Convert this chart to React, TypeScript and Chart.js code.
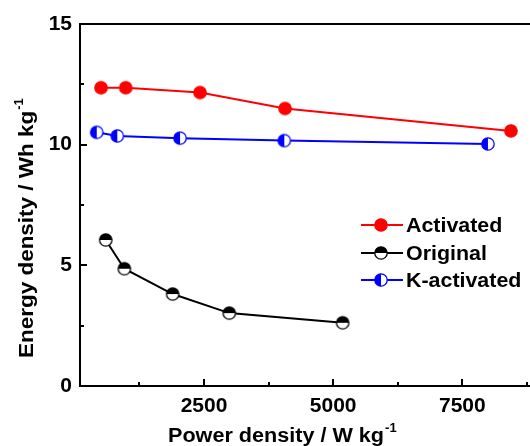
import React, { useEffect, useRef } from 'react';
import { Chart, registerables } from 'chart.js';

Chart.register(...registerables);

// ---- data ----
const seriesLabels = ['Activated', 'Original', 'K-activated'];
const activatedPower = [507, 985, 2423, 4068, 8440];
const activatedEnergy = [12.36, 12.36, 12.16, 11.5, 10.57];
const originalPower = [598, 958, 1894, 2990, 5184];
const originalEnergy = [6.05, 4.86, 3.81, 3.02, 2.62];
const kActivatedPower = [424, 822, 2036, 4054, 7995];
const kActivatedEnergy = [10.51, 10.36, 10.27, 10.17, 10.03];

const xTickValues = [2500, 5000, 7500];
const xMinorTickValues = [1250, 3750, 6250, 8750];
const yTickValues = [0, 5, 10, 15];
const yMinorTickValues = [2.5, 7.5, 12.5];

const xAxisTitle = 'Power density / W kg';
const yAxisTitle = 'Energy density / Wh kg';
const unitExponent = '-1';

const FONT = 'Arial, "Liberation Sans", sans-serif';

type MarkerKind = 'filled' | 'halfTop' | 'halfLeft';

function makeMarker(kind: MarkerKind, color: string): HTMLCanvasElement {
  const size = 16;
  const c = document.createElement('canvas');
  c.width = size;
  c.height = size;
  const ctx = c.getContext('2d')!;
  const cx = size / 2;
  const cy = size / 2;
  const r = 6.2;
  ctx.fillStyle = '#ffffff';
  ctx.beginPath();
  ctx.arc(cx, cy, r, 0, Math.PI * 2);
  ctx.fill();
  ctx.fillStyle = color;
  ctx.beginPath();
  if (kind === 'filled') {
    ctx.arc(cx, cy, r, 0, Math.PI * 2);
  } else if (kind === 'halfTop') {
    ctx.arc(cx, cy, r, Math.PI, Math.PI * 2);
    ctx.closePath();
  } else {
    ctx.arc(cx, cy, r, Math.PI / 2, Math.PI * 1.5);
    ctx.closePath();
  }
  ctx.fill();
  ctx.strokeStyle = color;
  ctx.lineWidth = 1.3;
  ctx.beginPath();
  ctx.arc(cx, cy, r, 0, Math.PI * 2);
  ctx.stroke();
  return c;
}

function toPoints(xs: number[], ys: number[]) {
  return xs.map((x, i) => ({ x, y: ys[i] }));
}

const frameAndExtrasPlugin = {
  id: 'frameAndExtras',
  afterDraw(chart: any) {
    const ctx: CanvasRenderingContext2D = chart.ctx;
    const a = chart.chartArea;
    const xs = chart.scales.x;
    const ys = chart.scales.y;
    ctx.save();
    ctx.strokeStyle = '#000';
    ctx.lineWidth = 2;
    // top frame line
    ctx.beginPath();
    ctx.moveTo(a.left - 1, a.top);
    ctx.lineTo(a.right, a.top);
    ctx.stroke();
    // inward ticks
    const tick = (x1: number, y1: number, x2: number, y2: number) => {
      ctx.beginPath();
      ctx.moveTo(x1, y1);
      ctx.lineTo(x2, y2);
      ctx.stroke();
    };
    xTickValues.forEach((v) => {
      const p = Math.round(xs.getPixelForValue(v));
      tick(p, a.bottom, p, a.bottom - 7);
    });
    xMinorTickValues.forEach((v) => {
      const p = Math.round(xs.getPixelForValue(v));
      tick(p, a.bottom, p, a.bottom - 4);
    });
    yTickValues.forEach((v) => {
      const p = Math.round(ys.getPixelForValue(v));
      tick(a.left, p, a.left + 7, p);
    });
    yMinorTickValues.forEach((v) => {
      const p = Math.round(ys.getPixelForValue(v));
      tick(a.left, p, a.left + 4, p);
    });

    // axis titles with superscript
    ctx.fillStyle = '#000';
    ctx.textAlign = 'left';
    ctx.textBaseline = 'alphabetic';
    // x title
    ctx.save();
    ctx.translate(168, 442);
    ctx.scale(1.08, 1);
    ctx.font = `bold 20px ${FONT}`;
    ctx.fillText(xAxisTitle, 0, 0);
    const wx = ctx.measureText(xAxisTitle).width;
    ctx.font = `bold 12px ${FONT}`;
    ctx.fillText(unitExponent, wx + 1, -10);
    ctx.restore();
    // y title
    ctx.save();
    ctx.translate(33, 358);
    ctx.rotate(-Math.PI / 2);
    ctx.scale(1.07, 1);
    ctx.font = `bold 21px ${FONT}`;
    ctx.fillText(yAxisTitle, 0, 0);
    const wy = ctx.measureText(yAxisTitle).width;
    ctx.font = `bold 12px ${FONT}`;
    ctx.fillText(unitExponent, wy + 1, -10);
    ctx.restore();

    // legend
    const rows = [225, 253, 280];
    chart.data.datasets.forEach((ds: any, i: number) => {
      const y = rows[i];
      ctx.strokeStyle = ds.borderColor;
      ctx.lineWidth = 2;
      tick(361, y, 403, y);
      const img = ds.pointStyle as HTMLCanvasElement;
      ctx.drawImage(img, 381 - img.width / 2, y - img.height / 2);
      ctx.save();
      ctx.translate(406, y);
      ctx.scale(1.07, 1);
      ctx.font = `bold 20px ${FONT}`;
      ctx.textBaseline = 'middle';
      ctx.fillStyle = '#000';
      ctx.fillText(ds.label, 0, 1);
      ctx.restore();
    });
    ctx.restore();
  },
};

export default function App() {
  const canvasRef = useRef<HTMLCanvasElement | null>(null);

  useEffect(() => {
    const canvas = canvasRef.current;
    if (!canvas) return;
    const chart = new Chart(canvas, {
      type: 'scatter',
      data: {
        datasets: [
          {
            label: seriesLabels[0],
            data: toPoints(activatedPower, activatedEnergy),
            borderColor: '#ff0000',
            backgroundColor: '#ff0000',
            borderWidth: 2,
            showLine: true,
            pointStyle: makeMarker('filled', '#ff0000'),
            pointRadius: 7,
          },
          {
            label: seriesLabels[1],
            data: toPoints(originalPower, originalEnergy),
            borderColor: '#000000',
            backgroundColor: '#000000',
            borderWidth: 2,
            showLine: true,
            pointStyle: makeMarker('halfTop', '#000000'),
            pointRadius: 7,
          },
          {
            label: seriesLabels[2],
            data: toPoints(kActivatedPower, kActivatedEnergy),
            borderColor: '#0000ff',
            backgroundColor: '#0000ff',
            borderWidth: 2,
            showLine: true,
            pointStyle: makeMarker('halfLeft', '#0000ff'),
            pointRadius: 7,
          },
        ] as any,
      },
      options: {
        responsive: false,
        animation: false,
        devicePixelRatio: 1,
        layout: { autoPadding: false, padding: { top: 24, right: 0, left: 0, bottom: 0 } },
        plugins: {
          legend: { display: false },
          tooltip: { enabled: false },
          title: { display: false },
        },
        scales: {
          x: {
            type: 'linear',
            min: 100,
            max: 8810,
            grid: { display: false, drawTicks: false },
            border: { display: true, color: '#000', width: 2 },
            afterFit: (s: any) => {
              s.height = 60;
              s.paddingLeft = 0;
              s.paddingRight = 0;
            },
            afterBuildTicks: (s: any) => {
              s.ticks = xTickValues.map((v) => ({ value: v }));
            },
            ticks: {
              color: '#000',
              padding: 8,
              maxRotation: 0,
              callback: (v: any) => String(v),
              font: { family: FONT, size: 21, weight: 'bold' },
            },
          },
          y: {
            type: 'linear',
            min: 0,
            max: 15,
            grid: { display: false, drawTicks: false },
            border: { display: true, color: '#000', width: 2 },
            afterFit: (s: any) => {
              s.width = 80;
              s.paddingTop = 0;
              s.paddingBottom = 0;
            },
            afterBuildTicks: (s: any) => {
              s.ticks = yTickValues.map((v) => ({ value: v }));
            },
            ticks: {
              color: '#000',
              padding: 8,
              callback: (v: any) => String(v),
              font: { family: FONT, size: 21, weight: 'bold' },
            },
          },
        },
      } as any,
      plugins: [frameAndExtrasPlugin],
    });
    return () => chart.destroy();
  }, []);

  return (
    <div style={{ position: 'fixed', left: 0, top: 0, width: 530, height: 446, background: '#fff' }}>
      <canvas ref={canvasRef} width={530} height={446} style={{ display: 'block' }} />
    </div>
  );
}
